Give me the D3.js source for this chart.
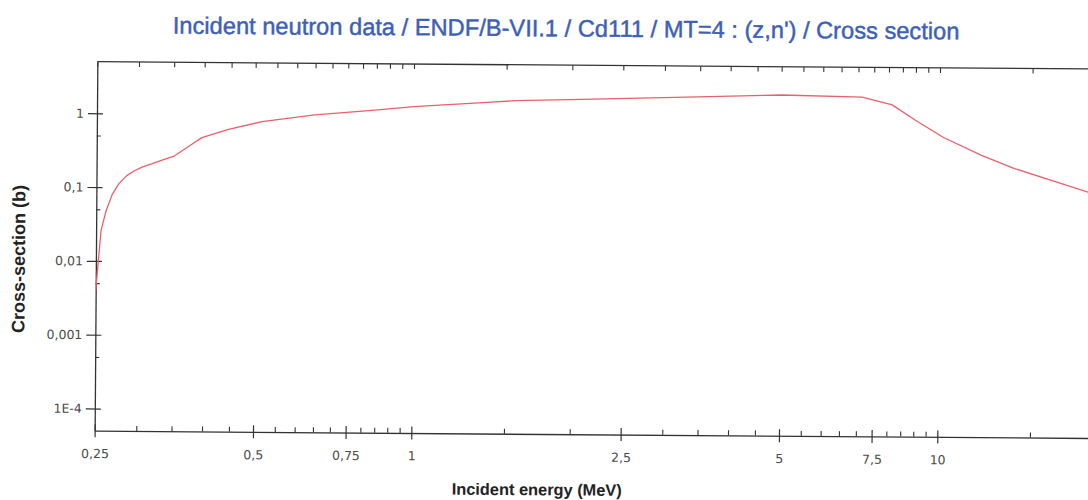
<!DOCTYPE html>
<html>
<head>
<meta charset="utf-8">
<script src="https://cdn.jsdelivr.net/npm/d3@7"></script>
<style>
  html, body { margin: 0; padding: 0; background: #fff; overflow: hidden; }
  svg { display: block; }
</style>
</head>
<body>
<svg id="chart" width="1088" height="500"></svg>
<script>
// Cd111 MT=4 (z,n') cross section, ENDF/B-VII.1
const energy = [0.25, 0.2555, 0.261, 0.268, 0.276, 0.285, 0.295, 0.306, 0.319, 0.334, 0.35,
                0.373, 0.396, 0.445, 0.515, 0.649, 0.844, 1.0, 1.38, 1.56, 2.09,
                3.64, 5.01, 7.12, 8.12, 8.98, 10.18, 12.03, 13.9, 19.2, 20];
const crossSection = [0.004, 0.026, 0.048, 0.08, 0.113, 0.143, 0.168, 0.19, 0.21, 0.238, 0.265,
                      0.36, 0.48, 0.625, 0.80, 1.0, 1.18, 1.32, 1.54, 1.63, 1.73,
                      1.94, 2.07, 1.97, 1.56, 0.98, 0.57, 0.33, 0.22, 0.107, 0.1];

const xMajorTicks = [0.25, 0.5, 0.75, 1, 2.5, 5, 7.5, 10];
const xTickLabels = ["0,25", "0,5", "0,75", "1", "2,5", "5", "7,5", "10"];
const xMinorTicks = [0.3, 0.35, 0.4, 0.45, 0.55, 0.6, 0.65, 0.7, 0.8, 0.85, 0.9, 0.95,
                     1.5, 2, 3, 3.5, 4, 4.5, 5.5, 6, 6.5, 7, 8, 8.5, 9, 9.5, 15];
const yMajorTicks = [1e-4, 1e-3, 0.01, 0.1, 1];
const yTickLabels = ["1E-4", "0,001", "0,01", "0,1", "1"];
const yMinorTicks = [5e-4, 5e-3, 0.05, 0.5];

const titleText = "Incident neutron data / ENDF/B-VII.1 / Cd111 / MT=4 : (z,n') / Cross section";
const xTitleText = "Incident energy (MeV)";
const yTitleText = "Cross-section (b)";

// Layout
const plotLeft = 96, plotTop = 61.7, plotBottom = 430.7;
const pxPerDecade = 526;
const xMin = 0.25, xMax = 20;
const plotRight = plotLeft + pxPerDecade * Math.log10(xMax / xMin);

const x = d3.scaleLog().domain([xMin, xMax]).range([plotLeft, plotRight]);
const y = d3.scaleLog().domain([5e-5, 5]).range([plotBottom, plotTop]);

const svg = d3.select("#chart");
const axisColor = "#333";
const tickFont = "'DejaVu Sans', Verdana, sans-serif";
const labelFont = "'Liberation Sans', Arial, sans-serif";

// whole drawing sits very slightly tilted
const root = svg.append("g").attr("transform", "rotate(0.42, 95.6, 246)");

svg.append("defs").append("clipPath").attr("id", "plotClip")
  .append("rect")
  .attr("x", plotLeft).attr("y", plotTop)
  .attr("width", plotRight - plotLeft).attr("height", plotBottom - plotTop);

function fitText(sel, targetWidth, baseSize) {
  const w = sel.node().getComputedTextLength();
  if (w > 0) sel.attr("font-size", baseSize * targetWidth / w);
}

// Title
const title = root.append("text")
  .attr("x", 564.5).attr("y", 33)
  .attr("text-anchor", "middle")
  .attr("font-family", labelFont)
  .attr("font-size", 22)
  .attr("fill", "#3d60b6")
  .attr("stroke", "#3d60b6").attr("stroke-width", 0.45)
  .text(titleText);
fitText(title, 787, 22);

// Frame top line
root.append("line")
  .attr("x1", plotLeft).attr("x2", plotRight)
  .attr("y1", plotTop).attr("y2", plotTop)
  .attr("stroke", axisColor).attr("stroke-width", 1.3);

// Bottom axis: major ticks with labels
const xAxisMajor = root.append("g")
  .attr("transform", `translate(0,${plotBottom})`)
  .call(d3.axisBottom(x)
    .tickValues(xMajorTicks)
    .tickFormat((d, i) => xTickLabels[i])
    .tickSizeOuter(0)
    .tickSizeInner(6.5)
    .tickPadding(12));
xAxisMajor.select(".domain").attr("stroke", axisColor).attr("stroke-width", 1.3);
xAxisMajor.selectAll(".tick line")
  .attr("y1", -6.5).attr("y2", 6.5)
  .attr("stroke", axisColor).attr("stroke-width", 1.2);
xAxisMajor.selectAll(".tick text")
  .attr("font-family", tickFont).attr("font-size", 12.5)
  .attr("fill", "#4a4a4a").attr("dy", "0.71em");

// Bottom axis: minor ticks (inward)
const xAxisMinor = root.append("g")
  .attr("transform", `translate(0,${plotBottom})`)
  .call(d3.axisBottom(x).tickValues(xMinorTicks).tickFormat("").tickSize(-5).tickSizeOuter(0));
xAxisMinor.select(".domain").remove();
xAxisMinor.selectAll(".tick line").attr("stroke", axisColor).attr("stroke-width", 1.1);

// Top frame ticks (inward)
const xAxisTop = root.append("g")
  .attr("transform", `translate(0,${plotTop})`)
  .call(d3.axisTop(x).tickValues(xMajorTicks.concat(xMinorTicks)).tickFormat("").tickSize(-5).tickSizeOuter(0));
xAxisTop.select(".domain").remove();
xAxisTop.selectAll(".tick line").attr("stroke", axisColor).attr("stroke-width", 1.1);

// Left axis: major ticks with labels
const yAxisMajor = root.append("g")
  .attr("transform", `translate(${plotLeft},0)`)
  .call(d3.axisLeft(y)
    .tickValues(yMajorTicks)
    .tickFormat((d, i) => yTickLabels[i])
    .tickSizeOuter(0)
    .tickSizeInner(9)
    .tickPadding(4));
yAxisMajor.select(".domain").attr("stroke", axisColor).attr("stroke-width", 1.3);
yAxisMajor.selectAll(".tick line")
  .attr("x1", -9).attr("x2", 6)
  .attr("stroke", axisColor).attr("stroke-width", 1.2);
yAxisMajor.selectAll(".tick text")
  .attr("font-family", tickFont).attr("font-size", 12.5)
  .attr("fill", "#4a4a4a");

// Left axis: minor ticks (inward)
const yAxisMinor = root.append("g")
  .attr("transform", `translate(${plotLeft},0)`)
  .call(d3.axisLeft(y).tickValues(yMinorTicks).tickFormat("").tickSize(-4).tickSizeOuter(0));
yAxisMinor.select(".domain").remove();
yAxisMinor.selectAll(".tick line").attr("stroke", axisColor).attr("stroke-width", 1.1);

// Axis titles
const xTitle = root.append("text")
  .attr("x", 538.5).attr("y", 492)
  .attr("text-anchor", "middle")
  .attr("font-family", labelFont).attr("font-weight", "bold")
  .attr("font-size", 15).attr("fill", "#222")
  .text(xTitleText);
fitText(xTitle, 170, 15);

const yTitle = root.append("text")
  .attr("transform", "translate(25,259.5) rotate(-90)")
  .attr("text-anchor", "middle")
  .attr("font-family", labelFont).attr("font-weight", "bold")
  .attr("font-size", 15).attr("fill", "#222")
  .text(yTitleText);
fitText(yTitle, 148, 15);

// Cross-section curve (lin-lin segments between tabulated points)
const data = energy.map((e, i) => [e, crossSection[i]]);
const line = d3.line().x(d => x(d[0])).y(d => y(d[1]));
root.append("g").attr("clip-path", "url(#plotClip)")
  .append("path")
  .datum(data)
  .attr("d", line)
  .attr("fill", "none")
  .attr("stroke", "#ea5f6c")
  .attr("stroke-width", 1.3)
  .attr("stroke-linejoin", "round");
</script>
</body>
</html>
